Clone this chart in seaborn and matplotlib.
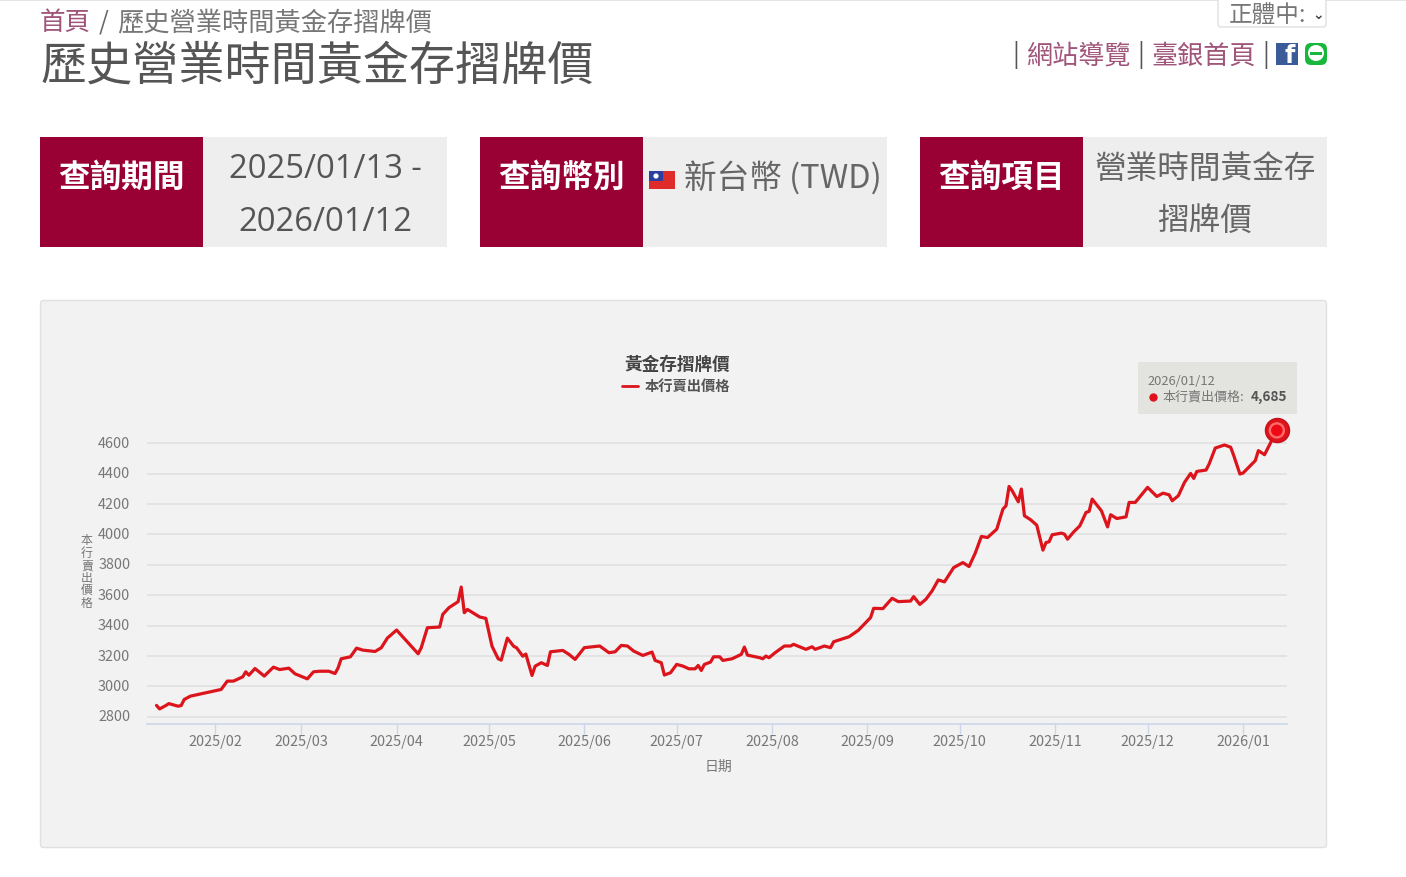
#Gold passbook price chart
import numpy as np
import pandas as pd
import matplotlib
matplotlib.use("Agg")
import matplotlib.pyplot as plt
import matplotlib.dates as mdates
from matplotlib.patches import Rectangle, FancyBboxPatch, Circle
from matplotlib.transforms import ScaledTranslation
import seaborn as sns

#days counted from the first date, price
start_date = "2025-01-13"
days = [0, 1, 3, 4, 7, 8, 9, 11, 16, 21,
        23, 25, 28, 29, 30, 32, 35, 38, 40, 43,
        45, 49, 51, 53, 56, 58, 59, 60, 63, 65,
        67, 71, 73, 75, 78, 85, 86, 88, 92, 93,
        95, 98, 99, 100, 101, 105, 107, 109, 111, 112,
        114, 116, 117, 119, 120, 122, 123, 125, 127, 128,
        132, 134, 136, 139, 144, 147, 149, 151, 153, 155,
        158, 161, 162, 164, 165, 167, 169, 171, 173, 175,
        176, 177, 178, 180, 181, 183, 184, 187, 190, 191,
        192, 196, 197, 198, 199, 201, 204, 206, 207, 211,
        213, 214, 217, 219, 220, 225, 228, 232, 233, 236,
        239, 241, 245, 246, 248, 250, 252, 254, 256, 259,
        262, 264, 266, 268, 270, 273, 275, 276, 277, 278,
        280, 281, 282, 284, 286, 288, 289, 290, 291, 294,
        295, 296, 298, 300, 302, 303, 304, 307, 309, 310,
        312, 315, 316, 318, 322, 325, 327, 329, 330, 332,
        334, 336, 337, 338, 341, 342, 344, 347, 349, 350,
        352, 353, 357, 358, 360, 364]
prices = [2875, 2852, 2874, 2887, 2870, 2874, 2914, 2936, 2958, 2980,
          3035, 3035, 3063, 3096, 3074, 3118, 3068, 3127, 3111, 3120,
          3083, 3050, 3096, 3100, 3100, 3085, 3122, 3182, 3195, 3252,
          3239, 3230, 3254, 3318, 3371, 3215, 3254, 3386, 3391, 3474,
          3518, 3558, 3654, 3485, 3507, 3457, 3448, 3265, 3182, 3173,
          3318, 3265, 3254, 3199, 3213, 3072, 3133, 3156, 3138, 3228,
          3237, 3211, 3178, 3255, 3266, 3222, 3228, 3270, 3266, 3233,
          3204, 3226, 3171, 3156, 3075, 3090, 3145, 3134, 3116, 3116,
          3138, 3105, 3145, 3160, 3195, 3195, 3171, 3182, 3211, 3259,
          3206, 3189, 3182, 3200, 3189, 3222, 3266, 3266, 3277, 3244,
          3261, 3244, 3266, 3255, 3294, 3327, 3369, 3453, 3514, 3512,
          3580, 3558, 3562, 3591, 3540, 3574, 3629, 3701, 3688, 3782,
          3815, 3789, 3877, 3987, 3980, 4035, 4167, 4189, 4316, 4288,
          4215, 4299, 4123, 4097, 4061, 3897, 3947, 3952, 3998, 4009,
          4002, 3969, 4017, 4057, 4145, 4152, 4233, 4156, 4050, 4130,
          4105, 4116, 4211, 4211, 4310, 4250, 4272, 4261, 4222, 4255,
          4343, 4402, 4369, 4415, 4424, 4464, 4569, 4589, 4574, 4519,
          4398, 4404, 4486, 4552, 4525, 4685]
y_ticks = [2800, 3000, 3200, 3400, 3600, 3800, 4000, 4200, 4400, 4600]
month_ticks = ["2025-02-01", "2025-03-01", "2025-04-01", "2025-05-01", "2025-06-01", "2025-07-01",
               "2025-08-01", "2025-09-01", "2025-10-01", "2025-11-01", "2025-12-01", "2026-01-01"]

page_title = "歷史營業時間黃金存摺牌價"
query_heads = ["查詢期間", "查詢幣別", "查詢項目"]
chart_title = "黃金存摺牌價"
series_name = "本行賣出價格"
x_label = "日期"
tip_date = "2026/01/12"
tip_value = "4,685"

sns.set_theme(style="white")
plt.rcParams['font.family'] = ['Noto Sans CJK TC', 'DejaVu Sans']

W, H = 1406, 878
crimson = "#990033"
tile_grey = "#eeeeee"
link = "#a0557a"
text_dark = "#555555"
red = "#dc141c"

df = pd.DataFrame({
    "date": pd.Timestamp(start_date) + pd.to_timedelta(days, unit="D"),
    "price": prices,
})

fig = plt.figure(figsize=(W / 100, H / 100), dpi=100, facecolor="white")

#page furniture lives in an axes measured in pixels
page = fig.add_axes([0, 0, 1, 1], zorder=0)
page.set_xlim(0, W)
page.set_ylim(H - 1, -1)
page.axis("off")


def put(x, y, s, size, color=text_dark, ha="left", weight="normal", **kw):
    page.text(x, y, s, fontsize=size, color=color, ha=ha, va="center", fontweight=weight, **kw)


page.add_patch(Rectangle((0, -1), W, 2, color="#e4e4e4", lw=0))

#header
put(40, 22, "首頁", 18.4, color=link)
put(99, 22, "/", 18, color="#666666")
put(117, 22, page_title, 18.9, color="#777777")
put(40, 65, page_title, 33.2, color="#555555")

page.add_patch(FancyBboxPatch((1218, -8), 108, 35, boxstyle="round,pad=0,rounding_size=3",
                              fc="white", ec="#e0e0e0", lw=1))
put(1229, 15, "正體中:", 17, color="#777777")
put(1318, 14, "⌄", 10, color="#444444", ha="center", weight="bold", family="DejaVu Sans")

put(1012, 54, "|", 18, color="#555555")
put(1026, 55, "網站導覽", 18.8, color=link)
put(1137, 54, "|", 18, color="#555555")
put(1151, 55, "臺銀首頁", 18.8, color=link)
put(1262, 54, "|", 18, color="#555555")
page.add_patch(Rectangle((1276, 43), 22, 22, color="#3a5a98", lw=0))
put(1290, 55, "f", 17, color="white", ha="center", weight="bold", family="DejaVu Sans")
page.add_patch(FancyBboxPatch((1305, 43), 22, 22, boxstyle="round,pad=0,rounding_size=6", fc="#19b83c", ec="none"))
page.add_patch(Circle((1316, 53), 8, fc="white", ec="none"))
page.add_patch(Rectangle((1310, 51.5), 12, 3, color="#19b83c", lw=0))

#the three query tiles
for left, right, head in zip([40, 480, 920], [447, 887, 1327], query_heads):
    page.add_patch(Rectangle((left, 137), right - left, 110, color=tile_grey, lw=0))
    page.add_patch(Rectangle((left, 137), 163, 110, color=crimson, lw=0))
    put(left + 81, 177, head, 22.8, color="white", ha="center", weight="bold")

put(325, 169, "2025/01/13 -", 23.6, ha="center", family="Open Sans")
put(325, 222, "2026/01/12", 23.6, ha="center", family="Open Sans")
page.add_patch(Rectangle((649, 171), 26, 18, color="#e02b2b", lw=0))
page.add_patch(Rectangle((649, 171), 14, 10, color="#2b3f9e", lw=0))
page.add_patch(Circle((656, 176), 2.6, color="white", lw=0))
put(684, 177, "新台幣 (TWD)", 23.5, color="#666666")
put(1205, 168, "營業時間黃金存", 22.8, color="#666666", ha="center")
put(1205, 220, "摺牌價", 22.8, color="#666666", ha="center")

#chart panel
page.add_patch(FancyBboxPatch((40.5, 300.5), 1286, 547, boxstyle="round,pad=0,rounding_size=3",
                              fc="#f2f2f2", ec="#e0e0e0", lw=1))
put(677, 364, chart_title, 12.7, color="#444444", ha="center", weight="bold")
page.plot([622, 638], [386, 386], color=red, lw=2)
put(645, 386, series_name, 10.3, color="#555555", weight="bold")
put(87, 571, "\n".join(series_name), 8.6, color="#777777", ha="center", linespacing=0.95)
put(718, 766, x_label, 10, color="#777777", ha="center")

#the plot area itself, x from 147 to 1287 px and y from 420 to 724 px
ax = fig.add_axes([147 / W, 1 - 724.5 / H, 1140 / W, 304.5 / H], zorder=2)
ax.patch.set_alpha(0)
sns.lineplot(data=df, x="date", y="price", estimator=None, sort=False, color=red, lw=2.3, ax=ax, zorder=3)

last = df.iloc[[-1]]
sns.scatterplot(data=last, x="date", y="price", s=300, color=red, edgecolor="#c81018", lw=1, ax=ax, zorder=4, clip_on=False)
sns.scatterplot(data=last, x="date", y="price", s=140, color="#ff6a6a", edgecolor="none", ax=ax, zorder=5, clip_on=False)
sns.scatterplot(data=last, x="date", y="price", s=70, color="#ee0a14", edgecolor="none", ax=ax, zorder=6, clip_on=False)

ax.set_xlim(pd.Timestamp(start_date) - pd.Timedelta(days=3.09), pd.Timestamp(start_date) + pd.Timedelta(days=367.3))
ax.set_ylim(2756, 4760)
ax.set_yticks(y_ticks)
ax.set_xticks(pd.to_datetime(month_ticks))
ax.xaxis.set_major_formatter(mdates.DateFormatter("%Y/%m"))
ax.set_xlabel("")
ax.set_ylabel("")
ax.grid(axis="y", color="#e3e3e3", lw=1.4)
ax.grid(axis="x", visible=False)
for side in ["top", "left", "right"]:
    ax.spines[side].set_visible(False)
ax.spines["bottom"].set_color("#ccd6eb")
ax.spines["bottom"].set_linewidth(1.2)
ax.tick_params(axis="x", length=7, width=1, color="#ccd6eb", labelsize=10.4, labelcolor="#777777", pad=0.5, bottom=True)
ax.tick_params(axis="y", length=0, labelsize=10.4, labelcolor="#777777", pad=12)
for label in ax.get_yticklabels():
    label.set_transform(label.get_transform() + ScaledTranslation(0, 0.02, fig.dpi_scale_trans))

#tooltip goes above the line and marker
tip = fig.add_axes([0, 0, 1, 1], zorder=3)
tip.set_xlim(0, W)
tip.set_ylim(H - 1, -1)
tip.axis("off")
tip.add_patch(Rectangle((1138, 362), 159, 52, color="#e3e3df", lw=0))
tip.text(1147, 381, tip_date, fontsize=9.3, color="#777777", va="center")
tip.plot([1153], [397], "o", ms=5, color="#e0101a")
tip.text(1162, 396.5, series_name + ":", fontsize=9.4, color="#777777", va="center")
tip.text(1287, 396, tip_value, fontsize=9.8, color="#555555", va="center", ha="right", fontweight="bold")

fig.savefig("out.png", dpi=100)
plt.close(fig)
